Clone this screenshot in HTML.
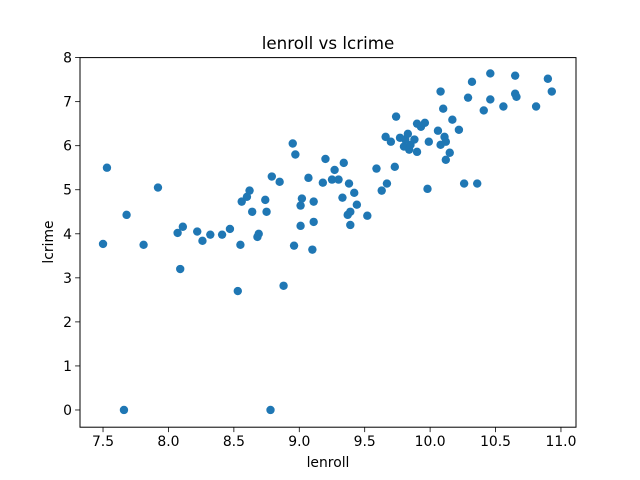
<!DOCTYPE html>
<html><head><meta charset="utf-8"><style>
body{margin:0;background:#fff;}
svg{display:block;font-family:"DejaVu Sans","Liberation Sans",sans-serif;}
</style></head><body>
<svg id="chart" width="640" height="480" viewBox="0 0 640 480" xmlns="http://www.w3.org/2000/svg">
<rect width="640" height="480" fill="#fff"/>
<text x="328" y="49" text-anchor="middle" font-size="16.7">lenroll vs lcrime</text>
<text x="328" y="467" text-anchor="middle" font-size="13.9">lenroll</text>
<text transform="translate(53,242) rotate(-90)" text-anchor="middle" font-size="13.9">lcrime</text>
<g id="points"></g>
<g id="xticks"></g>
<g id="yticks"></g>
<rect x="80" y="57.6" width="496" height="369.6" fill="none" stroke="#000" stroke-width="1"/>
</svg>
<script>
const lenroll=[7.5,7.53,7.66,7.68,7.81,7.92,8.07,8.09,8.11,8.22,8.26,8.32,8.41,8.47,8.53,8.55,8.56,8.6,8.62,8.64,8.68,8.69,8.74,8.75,8.78,8.79,8.85,8.88,8.95,8.96,8.97,9.01,9.01,9.02,9.07,9.1,9.11,9.11,9.18,9.2,9.25,9.27,9.3,9.33,9.34,9.37,9.38,9.39,9.39,9.42,9.44,9.52,9.59,9.63,9.66,9.67,9.7,9.73,9.74,9.77,9.8,9.81,9.83,9.84,9.85,9.88,9.9,9.9,9.93,9.96,9.98,9.99,10.06,10.08,10.08,10.1,10.11,10.12,10.12,10.15,10.17,10.22,10.26,10.29,10.32,10.36,10.41,10.46,10.46,10.56,10.65,10.65,10.66,10.81,10.9,10.93];
const lcrime=[3.77,5.5,0,4.43,3.75,5.05,4.02,3.2,4.16,4.05,3.84,3.98,3.98,4.11,2.7,3.75,4.73,4.84,4.98,4.5,3.93,4.0,4.77,4.5,0,5.3,5.18,2.82,6.05,3.73,5.8,4.18,4.64,4.8,5.27,3.64,4.27,4.73,5.16,5.7,5.23,5.45,5.23,4.82,5.61,4.43,5.14,4.5,4.2,4.93,4.66,4.41,5.48,4.98,6.2,5.14,6.09,5.52,6.66,6.18,5.98,6.14,6.27,5.91,6.02,6.14,6.5,5.86,6.43,6.52,5.02,6.09,6.34,7.23,6.02,6.84,6.2,6.09,5.68,5.84,6.59,6.36,5.14,7.09,7.45,5.14,6.8,7.64,7.05,6.89,7.59,7.18,7.11,6.89,7.52,7.23];
const xTickLabels=["7.5","8.0","8.5","9.0","9.5","10.0","10.5","11.0"];
const yTickLabels=["0","1","2","3","4","5","6","7","8"];
const NS="http://www.w3.org/2000/svg";
const X0=80,X1=576,Y0=427.2,Y1=57.6,XMIN=7.324,XMAX=11.115,YMIN=-0.391,YMAX=8.0;
function sx(v){return X0+(v-XMIN)/(XMAX-XMIN)*(X1-X0);}
function sy(v){return Y0-(v-YMIN)/(YMAX-YMIN)*(Y0-Y1);}
function mk(t,a){const e=document.createElementNS(NS,t);for(const k in a)e.setAttribute(k,a[k]);return e;}
const pg=document.getElementById('points');
for(let i=0;i<lenroll.length;i++){
  const c=mk('circle',{cx:sx(lenroll[i]),cy:sy(lcrime[i]),r:4.2,fill:'#1f77b4'});
  
  
  pg.appendChild(c);
}
const xg=document.getElementById('xticks');
xTickLabels.forEach(l=>{
  const x=sx(parseFloat(l));
  const ln=mk('line',{x1:x,x2:x,y1:Y0,y2:Y0+4.9,stroke:'#000','stroke-width':0.8});
  
  
  xg.appendChild(ln);
  const t=mk('text',{x:x,y:Y0+19,'text-anchor':'middle','font-size':13.9});
  t.textContent=l;
  
  
  xg.appendChild(t);
});
const yg=document.getElementById('yticks');
yTickLabels.forEach(l=>{
  const y=sy(parseFloat(l));
  const ln=mk('line',{x1:X0-4.9,x2:X0,y1:y,y2:y,stroke:'#000','stroke-width':0.8});
  
  
  yg.appendChild(ln);
  const t=mk('text',{x:X0-8,y:y+5,'text-anchor':'end','font-size':13.9});
  t.textContent=l;
  
  
  yg.appendChild(t);
});
</script>
</body></html>
